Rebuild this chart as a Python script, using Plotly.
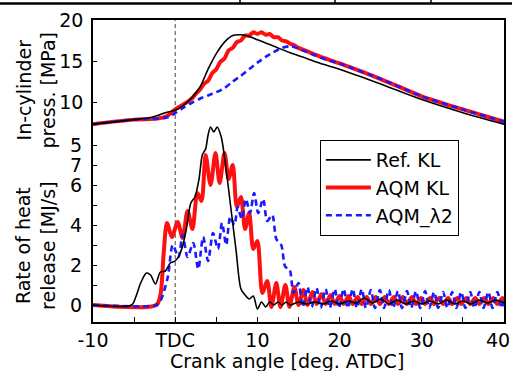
import plotly.graph_objects as go

# ---------------- data ----------------
# In-cylinder pressure [MPa]
p_ref_x = [-10, -5, -3, -2, -1, 0, 1, 2, 3, 4, 5, 6, 7, 8, 9, 10, 11, 12, 14, 16, 18, 20, 25, 30, 35, 40]
p_ref_y = [7.3, 7.85, 8.1, 8.4, 8.75, 9.0, 9.6, 10.5, 11.8, 14.0, 15.9, 17.3, 18.1, 18.2, 18.0, 17.6, 17.2, 16.8, 16.0, 15.3, 14.6, 14.0, 12.2, 10.3, 8.7, 7.3]

p_aqm_x = [-10, -5, -2, -1, 0, 1, 2, 2.5, 3.0, 3.5, 4.0, 4.5, 5.0, 5.5, 6.0, 6.5, 7.0, 7.5, 8.0, 8.5, 9.0,
           9.5, 10.0, 10.5, 11.0, 11.5, 12.0, 12.5, 13.0, 13.5, 14.0, 14.5, 15, 16, 18, 20, 25, 30, 35, 40]
p_aqm_y = [7.3, 7.85, 8.0, 8.3, 9.1, 9.7, 10.4, 11.0, 11.5, 12.2, 12.6, 13.5, 14.0, 14.9, 15.3, 16.3, 16.6, 17.3, 17.5, 18.1, 18.1,
           18.5, 18.3, 18.5, 18.2, 18.3, 17.9, 17.9, 17.5, 17.4, 17.1, 16.9, 16.6, 16.2, 15.4, 14.7, 12.8, 10.7, 9.1, 7.6]

p_l2_x = [-10, -5, -1, 0, 1, 2, 3, 4, 5, 6, 7, 8, 9, 10, 11, 12, 13, 14, 15, 16, 17, 18, 20, 25, 30, 35, 40]
p_l2_y = [7.3, 7.85, 8.1, 8.65, 9.3, 9.9, 10.4, 10.8, 11.2, 11.7, 12.5, 13.2, 14.0, 14.8, 15.5, 16.1, 16.6, 16.8, 16.5, 16.1, 15.7, 15.3, 14.7, 12.8, 10.7, 9.1, 7.6]

# Rate of heat release [MJ/s]
q_ref_x = [-10, -5.3, -4.8, -4.2, -3.5, -3.0, -2.4, -1.8, -1.2, -0.6, 0.0, 0.5, 1.0, 1.4, 1.9, 2.4, 2.9, 3.3, 3.7,
           4.0, 4.3, 4.7, 5.1, 5.6, 6.0, 6.4, 6.8, 7.4, 8.0, 8.5, 9.0, 9.5, 10.0, 10.5, 11.0, 11.5, 12.0, 12.5,
           13, 13.5, 14, 15, 16, 17, 18, 19, 20, 21, 22, 23, 24, 25, 26, 27, 28, 29, 30, 31, 32, 33, 34, 35,
           36, 37, 38, 39, 40]
q_ref_y = [0.0, 0.0, 0.4, 1.1, 1.6, 1.5, 1.05, 1.65, 1.7, 2.1, 2.2, 2.5, 3.1, 3.9, 5.1, 5.4, 6.3, 7.5, 7.8,
           8.5, 8.9, 8.65, 8.9, 8.4, 7.4, 6.1, 4.75, 2.75, 0.8, 0.5, 0.3, 0.45, -0.2, 0.15, -0.1, 0.15, 0.0, 0.15,
           0.0, 0.15, 0.0, 0.15, 0.05, 0.15, 0.05, 0.2, 0.05, 0.2, 0.1, 0.35, 0.1, 0.3, 0.05, 0.25, 0.05, 0.2, 0.05, 0.2, 0.05, 0.25, 0.05, 0.2,
           0.05, 0.25, 0.1, 0.25, 0.1]

q_aqm_x = [-10, -2.3, -1.8, -1.4, -1.0, -0.4, 0.3, 0.9, 1.5, 2.1, 2.7, 3.2, 3.7, 4.3, 4.9, 5.4, 6.0, 6.5, 7.0,
           7.5, 8.0, 8.5, 9.0, 9.5, 10.0, 10.6, 11.2, 11.7, 12.3, 12.8, 13.4, 13.9, 14.5, 15.0, 15.6, 16.1,
           16.7, 17.2, 17.8, 18.3, 18.9, 19.4, 20.0, 20.5, 21.1, 21.6, 22.2, 22.7, 23.3, 23.8, 24.4, 24.9,
           25.5, 26.0, 26.6, 27.1, 27.7, 28.2, 28.8, 29.3, 29.9, 30.4, 31.0, 31.5, 32.1, 32.6, 33.2, 33.7,
           34.3, 34.8, 35.4, 35.9, 36.5, 37.0, 37.6, 38.1, 38.7, 39.2, 39.8, 40.0]
q_aqm_y = [0.0, 0.0, 0.5, 2.6, 4.1, 3.4, 4.15, 3.35, 4.7, 3.8, 5.6, 5.2, 7.5, 6.0, 7.6, 6.1, 7.6, 6.3, 7.0,
           4.9, 5.4, 3.8, 4.6, 2.8, 3.2, 0.6, 1.2, -0.1, 1.1, -0.1, 1.0, -0.1, 0.9, 0.0, 0.75, 0.0,
           0.65, 0.05, 0.55, 0.05, 0.5, 0.05, 0.45, 0.05, 0.45, 0.05, 0.4, 0.05, 0.4, 0.05, 0.4, 0.05,
           0.4, 0.05, 0.4, 0.05, 0.4, 0.05, 0.4, 0.05, 0.35, 0.05, 0.35, 0.05, 0.35, 0.05, 0.35, 0.05,
           0.35, 0.05, 0.35, 0.05, 0.35, 0.05, 0.35, 0.05, 0.35, 0.05, 0.35, 0.2]

q_l2_x = [-10, -2.3, -1.8, -0.9, -0.3, 0.4, 0.9, 1.5, 2.2, 2.8, 3.4, 4.0, 4.6, 5.2, 5.7, 6.2, 6.7, 7.2, 7.6,
          8.1, 8.6, 9.1, 9.6, 10.1, 10.7, 11.2, 11.8, 12.3, 12.9, 13.4, 13.9, 14.4, 15.0, 15.5, 16.1, 16.6,
          17.2, 17.7, 18.3, 18.8, 19.4, 19.9, 20.5, 21.0, 21.6, 22.1, 22.7, 23.2, 23.8, 24.3, 24.9, 25.4,
          26.0, 26.5, 27.1, 27.6, 28.2, 28.7, 29.3, 29.8, 30.4, 30.9, 31.5, 32.0, 32.6, 33.1, 33.7, 34.2,
          34.8, 35.3, 35.9, 36.4, 37.0, 37.5, 38.1, 38.6, 39.2, 39.7, 40.0]
q_l2_y = [0.0, 0.0, 0.2, 1.4, 3.0, 2.4, 3.5, 2.4, 3.1, 1.8, 3.4, 2.2, 3.6, 2.8, 4.1, 3.0, 4.4, 4.0, 4.9,
          4.3, 5.3, 4.6, 5.6, 4.6, 5.3, 4.2, 4.5, 3.3, 3.0, 1.9, 1.8, 0.6, 1.1, -0.1, 0.9, -0.1,
          0.85, -0.15, 0.8, -0.15, 0.8, -0.15, 0.8, -0.15, 0.8, -0.15, 0.8, -0.15, 0.75, -0.15, 0.75, -0.15,
          0.75, -0.15, 0.7, -0.15, 0.7, -0.15, 0.7, -0.15, 0.7, -0.15, 0.65, -0.15, 0.65, -0.15, 0.65, -0.15,
          0.65, -0.15, 0.65, -0.15, 0.65, -0.15, 0.65, -0.15, 0.65, -0.15, 0.3]

x_tick_vals = [-10, -5, 0, 5, 10, 15, 20, 25, 30, 35, 40]
x_tick_text = ["-10", "", "TDC", "", "10", "", "20", "", "30", "", ""]
x_last_label = "40"   # drawn separately so it stays inside the picture
p_tick_vals = [10, 15, 20]
q_tick_vals = [0, 1, 2, 3, 4, 5, 6, 7, 8]
q_tick_text = ["0", "", "2", "", "4", "", "6", "7", "5"]

names = ["Ref. KL", "AQM KL", "AQM_\u03bb2"]

for a, b in [(p_ref_x, p_ref_y), (p_aqm_x, p_aqm_y), (p_l2_x, p_l2_y),
             (q_ref_x, q_ref_y), (q_aqm_x, q_aqm_y), (q_l2_x, q_l2_y)]:
    assert len(a) == len(b), (len(a), len(b))

# ---------------- figure ----------------
FONT = "DejaVu Sans"
FS = 19
RED = "#ff1010"
BLUE = "#1a1aff"
fig = go.Figure()

styles = {
    "ref": dict(color="black", width=1.6),
    "aqm": dict(color=RED, width=4),
    "l2": dict(color=BLUE, width=2.6, dash="6px,4px"),
}

# draw order: red, blue, black
fig.add_trace(go.Scatter(x=p_aqm_x, y=p_aqm_y, mode="lines", line=dict(**styles["aqm"], shape="spline", smoothing=0.8),
                         showlegend=False, yaxis="y"))
fig.add_trace(go.Scatter(x=q_aqm_x, y=q_aqm_y, mode="lines", line=dict(**styles["aqm"], shape="spline", smoothing=0.8),
                         name=names[1], legendrank=2, yaxis="y2"))
fig.add_trace(go.Scatter(x=p_l2_x, y=p_l2_y, mode="lines", line=dict(**styles["l2"], shape="spline", smoothing=0.8),
                         showlegend=False, yaxis="y"))
fig.add_trace(go.Scatter(x=q_l2_x, y=q_l2_y, mode="lines", line=dict(**styles["l2"], shape="spline", smoothing=0.8),
                         name=names[2], legendrank=3, yaxis="y2"))
fig.add_trace(go.Scatter(x=p_ref_x, y=p_ref_y, mode="lines", line=dict(**styles["ref"], shape="spline", smoothing=0.8),
                         showlegend=False, yaxis="y"))
fig.add_trace(go.Scatter(x=q_ref_x, y=q_ref_y, mode="lines", line=dict(**styles["ref"], shape="spline", smoothing=0.8),
                         name=names[0], legendrank=1, yaxis="y2"))

axis_common = dict(showgrid=False, zeroline=False, ticks="inside", tickcolor="black", automargin=False,
                   tickfont=dict(family=FONT, size=FS, color="black"))

fig.update_layout(
    width=512, height=371,
    margin=dict(l=93, r=8, t=20, b=49),
    paper_bgcolor="white", plot_bgcolor="white",
    font=dict(family=FONT, size=FS, color="black"),
    xaxis=dict(range=[-10, 40], tickvals=x_tick_vals, ticktext=x_tick_text, ticklen=5,
               showline=True, linecolor="black", linewidth=1.5, mirror=True, **axis_common),
    yaxis=dict(range=[-16.83, 20], tickvals=p_tick_vals, ticklen=4, ticklabelstandoff=4,
               showline=True, linecolor="black", linewidth=1.5, mirror=True, **axis_common),
    yaxis2=dict(range=[-0.85, 14.25], tickvals=q_tick_vals, ticktext=q_tick_text, ticklen=4,
                ticklabelstandoff=10, overlaying="y", side="left", showline=False, **axis_common),
    legend=dict(x=0.552, y=0.6026, xanchor="left", yanchor="top",
                bordercolor="black", borderwidth=1, bgcolor="white",
                font=dict(family=FONT, size=FS, color="black"),
                itemwidth=45, tracegroupgap=0),
    showlegend=True,
)

# TDC dashed marker line
fig.add_shape(type="line", xref="x", yref="paper", x0=0, x1=0, y0=0, y1=1,
              line=dict(color="#444444", width=1, dash="4px,3px"), layer="below")

# remnants of the table border at the very top of the image
fig.add_shape(type="line", xref="paper", yref="paper", x0=-0.2263, x1=1.0195, y0=1.0546, y1=1.0546,
              line=dict(color="black", width=2.5))
for xp in [0.3577, 0.5888, 0.8224]:
    fig.add_shape(type="line", xref="paper", yref="paper", x0=xp, x1=xp, y0=1.0546, y1=1.07,
                  line=dict(color="black", width=1.5))

# last x tick label, right-aligned at the picture edge
fig.add_annotation(text=x_last_label, xref="paper", yref="paper", x=1.0185, y=-0.0585,
                   xanchor="right", yanchor="middle", showarrow=False,
                   font=dict(family=FONT, size=FS, color="black"))

# axis titles
fig.add_annotation(text="In-cylinder<br>press. [MPa]", xref="paper", yref="paper",
                   x=-0.1387, y=0.77, xanchor="center", yanchor="middle", textangle=-90,
                   showarrow=False, font=dict(family=FONT, size=FS, color="black"))
fig.add_annotation(text="Rate of heat<br>release [MJ/s]", xref="paper", yref="paper",
                   x=-0.1387, y=0.252, xanchor="center", yanchor="middle", textangle=-90,
                   showarrow=False, font=dict(family=FONT, size=FS, color="black"))
fig.add_annotation(text="Crank angle [deg. ATDC]", xref="paper", yref="paper",
                   x=0.472, y=-0.13, xanchor="center", yanchor="middle",
                   showarrow=False, font=dict(family=FONT, size=FS, color="black"))

fig.write_html("out.html", config={"displayModeBar": False},
               post_script="document.body.style.margin='0';document.body.style.overflow='hidden';")
